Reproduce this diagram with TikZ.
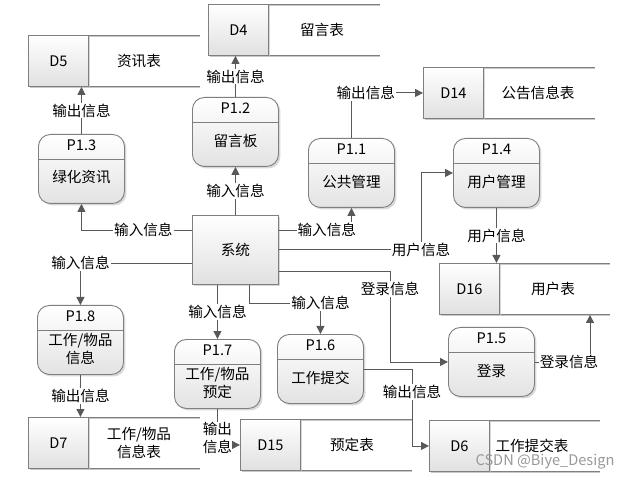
\documentclass[tikz,border=0pt]{standalone}
\usepackage{fontspec}
\setmainfont{Noto Sans CJK SC}
\usetikzlibrary{arrows.meta,shadows,calc}
\definecolor{lnc}{HTML}{595959}
\definecolor{bdc}{HTML}{7F7F7F}
\definecolor{shc}{HTML}{C8C8C8}
\tikzset{
 every node/.style={font=\fontsize{14.6}{18}\selectfont, text=black},
 procbox/.style={draw=bdc, line width=0.9pt, rounded corners=12pt, top color=white, bottom color=black!11,
   minimum width=86pt, minimum height=69pt, inner sep=0pt, anchor=north west,
   drop shadow={shadow xshift=2pt, shadow yshift=-2pt, fill=shc, opacity=0.7}},
 sysbox/.style={draw=bdc, line width=0.9pt, top color=white, bottom color=black!12,
   minimum width=86pt, minimum height=69pt, inner sep=0pt, anchor=north west,
   drop shadow={shadow xshift=2pt, shadow yshift=-2pt, fill=shc, opacity=0.7}},
 idbox/.style={draw=bdc, line width=0.9pt, top color=white, bottom color=black!12,
   minimum width=60pt, minimum height=51pt, inner sep=0pt, anchor=north west,
   drop shadow={shadow xshift=1.5pt, shadow yshift=-1.5pt, fill=shc, opacity=0.7}},
 storeline/.style={draw=bdc, line width=0.9pt},
 storeshade/.style={draw=shc, line width=1.2pt},
 divline/.style={draw=bdc, line width=0.9pt},
 ptext/.style={inner sep=0pt, align=center},
 flow/.style={draw=lnc, line width=0.9pt, -{Triangle[length=8pt,width=8pt]}},
 lbl/.style={fill=white, inner sep=1pt},
}
\newcommand\mkproc[5]{%
 \node[procbox] (#1) at (#2,#3) {};
 \draw[divline] ($(#1.north west)+(0,25)$) -- ($(#1.north east)+(0,25)$);
 \node[ptext] (#1id) at ($(#1.north)+(0,11.5)$) {#4};
 \node[ptext] (#1tx) at ($(#1.north)+(0,43.5)$) {#5};
}
\newcommand\mkstore[8]{%
 \draw[storeshade] (#2+1.5,#3+1.5) -- (#4,#3+1.5);
 \draw[storeshade] (#2+1.5,#5+1.5) -- (#4,#5+1.5);
 \draw[storeline] (#2,#3) -- (#4,#3);
 \draw[storeline] (#2,#5) -- (#4,#5);
 \node[idbox] (#1) at (#2,#3) {#6};
 \node[ptext] (#1lb) at (#7,0 |- #1.center) {#8};
}
\begin{document}
\begin{tikzpicture}[x=1pt,y=-1pt]
\useasboundingbox[fill=white] (0,0) rectangle (635,481);
% data stores
\mkstore{d5}{28}{35}{200}{86}{D5}{139}{资讯表}
\mkstore{d4}{208}{4}{380}{55}{D4}{322}{留言表}
\mkstore{d14}{423}{67}{595}{118}{D14}{538}{公告信息表}
\mkstore{d16}{439}{263}{610}{314}{D16}{553}{用户表}
\mkstore{d7}{28}{417}{200}{468}{D7}{139}{工作/物品\\信息表}
\mkstore{d15}{240}{419}{412}{470}{D15}{352}{预定表}
\mkstore{d6}{429}{420}{600}{471}{D6}{532}{工作提交表}
% processes
\mkproc{p12}{192}{97}{P1.2}{留言板}
\mkproc{p13}{38}{134}{P1.3}{绿化资讯}
\mkproc{p11}{308}{138}{P1.1}{公共管理}
\mkproc{p14}{453}{138}{P1.4}{用户管理}
\mkproc{p18}{37}{305}{P1.8}{工作/物品\\信息}
\mkproc{p17}{174}{339}{P1.7}{工作/物品\\预定}
\mkproc{p16}{277}{334}{P1.6}{工作提交}
\mkproc{p15}{448}{327}{P1.5}{登录}
% system
\node[sysbox] (sys) at (192,215) {};
\node[ptext] (systx) at (sys.center) {系统};
% coordinates for bends
\coordinate (k14) at (421,0);
\coordinate (k16b) at (590,0);
\coordinate (k15) at (390,271);
\coordinate (k18) at (0,263);
\coordinate (k16) at (249,303);
\coordinate (k6) at (412,0);
% flows
\draw[flow] (p13.north) -- node[lbl]{输出信息} (p13.north |- d5.south);
\draw[flow] (p12.north) -- node[lbl]{输出信息} (p12.north |- d4.south);
\draw[flow] (sys.north) -- node[lbl]{输入信息} (p12.south);
\draw[flow] ($(sys.north west)+(0,15)$) -| node[lbl,pos=0.22]{输入信息} (p13.south);
\draw[flow] ($(sys.north east)+(0,15)$) -| node[lbl,pos=0.33]{输入信息} (p11.south);
\draw[flow] (p11.north) |- node[lbl,pos=0.6]{输出信息} (d14.west);
\draw[flow] (sys.east) -- (sys.east -| k14) node[lbl]{用户信息} |- (p14.west);
\draw[flow] (p14.south) -- node[lbl]{用户信息} (p14.south |- d16.north);
\draw[flow] (p15.east) -| node[lbl,pos=0.31]{登录信息} (k16b |- d16.south);
\draw[flow] (sys.east |- k15) -- (k15) |- node[lbl,pos=0.1]{登录信息} (p15.west);
\draw[flow] (sys.west |- k18) -| node[lbl]{输入信息} (p18.north);
\draw[flow] (p18.south) -- node[lbl]{输出信息} (p18.south |- d7.north);
\draw[flow] (p17.north |- sys.south) -- node[lbl]{输入信息} (p17.north);
\draw[flow] (p17.south) |- node[lbl,pos=0.4,align=center,inner sep=0pt]{输出\\信息} (d15.west);
\draw[flow] (k16 |- sys.south) |- (k16 -| p16.north) node[lbl]{输入信息} -- (p16.north);
\draw[flow] (p16.east) -- (p16.east -| k6) |- node[lbl,pos=0.15]{输出信息} (d6.west);
% watermark
\node[text=black!40] (wm) at (545,462) {CSDN @Biye\_Design};
\end{tikzpicture}
\end{document}
